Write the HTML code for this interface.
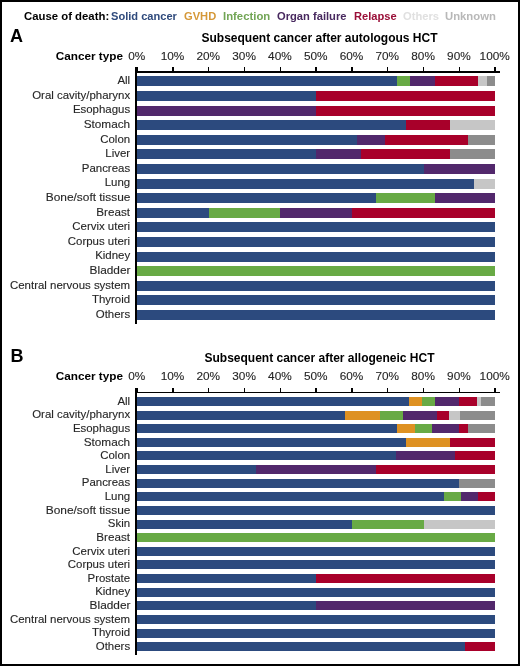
<!DOCTYPE html><html><head><meta charset="utf-8"><style>
html,body{margin:0;padding:0;background:#fff;}
#w{position:relative;width:520px;height:666px;overflow:hidden;background:#fff;font-family:"Liberation Sans",sans-serif;}
.t{position:absolute;height:0;line-height:0;white-space:nowrap;}
.b{position:absolute;}
#tl{position:absolute;left:0;top:0;width:520px;height:666px;will-change:transform;}
.r{-webkit-text-stroke:0.12px #262626;}
#bd{position:absolute;left:0;top:0;width:520px;height:666px;box-sizing:border-box;border:2px solid #000;}
</style></head><body><div id="w">
<div class="b" style="left:136.35px;top:67.00px;width:1.50px;height:3.90px;background:#000"></div>
<div class="b" style="left:172.15px;top:67.00px;width:1.50px;height:3.90px;background:#000"></div>
<div class="b" style="left:207.95px;top:67.00px;width:1.50px;height:3.90px;background:#000"></div>
<div class="b" style="left:243.75px;top:67.00px;width:1.50px;height:3.90px;background:#000"></div>
<div class="b" style="left:279.55px;top:67.00px;width:1.50px;height:3.90px;background:#000"></div>
<div class="b" style="left:315.35px;top:67.00px;width:1.50px;height:3.90px;background:#000"></div>
<div class="b" style="left:351.15px;top:67.00px;width:1.50px;height:3.90px;background:#000"></div>
<div class="b" style="left:386.95px;top:67.00px;width:1.50px;height:3.90px;background:#000"></div>
<div class="b" style="left:422.75px;top:67.00px;width:1.50px;height:3.90px;background:#000"></div>
<div class="b" style="left:458.55px;top:67.00px;width:1.50px;height:3.90px;background:#000"></div>
<div class="b" style="left:494.35px;top:67.00px;width:1.50px;height:3.90px;background:#000"></div>
<div class="b" style="left:135.60px;top:70.90px;width:364.00px;height:1.70px;background:#000"></div>
<div class="b" style="left:135.40px;top:67.00px;width:1.80px;height:256.80px;background:#000"></div>
<div class="b" style="left:137.10px;top:76.40px;width:358.00px;height:10.00px;background:#2c4a7e"></div>
<div class="b" style="left:396.65px;top:76.40px;width:98.45px;height:10.00px;background:#68aa45"></div>
<div class="b" style="left:409.54px;top:76.40px;width:85.56px;height:10.00px;background:#52286c"></div>
<div class="b" style="left:434.60px;top:76.40px;width:60.50px;height:10.00px;background:#a8002a"></div>
<div class="b" style="left:478.27px;top:76.40px;width:16.83px;height:10.00px;background:#c6c6c6"></div>
<div class="b" style="left:486.87px;top:76.40px;width:8.23px;height:10.00px;background:#8c8c8c"></div>
<div class="b" style="left:137.10px;top:91.00px;width:358.00px;height:10.00px;background:#2c4a7e"></div>
<div class="b" style="left:316.10px;top:91.00px;width:179.00px;height:10.00px;background:#a8002a"></div>
<div class="b" style="left:137.10px;top:105.60px;width:358.00px;height:10.00px;background:#52286c"></div>
<div class="b" style="left:316.10px;top:105.60px;width:179.00px;height:10.00px;background:#a8002a"></div>
<div class="b" style="left:137.10px;top:120.20px;width:358.00px;height:10.00px;background:#2c4a7e"></div>
<div class="b" style="left:405.60px;top:120.20px;width:89.50px;height:10.00px;background:#a8002a"></div>
<div class="b" style="left:450.35px;top:120.20px;width:44.75px;height:10.00px;background:#c6c6c6"></div>
<div class="b" style="left:137.10px;top:134.80px;width:358.00px;height:10.00px;background:#2c4a7e"></div>
<div class="b" style="left:357.41px;top:134.80px;width:137.69px;height:10.00px;background:#52286c"></div>
<div class="b" style="left:384.94px;top:134.80px;width:110.16px;height:10.00px;background:#a8002a"></div>
<div class="b" style="left:467.57px;top:134.80px;width:27.53px;height:10.00px;background:#8c8c8c"></div>
<div class="b" style="left:137.10px;top:149.40px;width:358.00px;height:10.00px;background:#2c4a7e"></div>
<div class="b" style="left:316.10px;top:149.40px;width:179.00px;height:10.00px;background:#52286c"></div>
<div class="b" style="left:360.85px;top:149.40px;width:134.25px;height:10.00px;background:#a8002a"></div>
<div class="b" style="left:450.35px;top:149.40px;width:44.75px;height:10.00px;background:#8c8c8c"></div>
<div class="b" style="left:137.10px;top:164.00px;width:358.00px;height:10.00px;background:#2c4a7e"></div>
<div class="b" style="left:423.50px;top:164.00px;width:71.60px;height:10.00px;background:#52286c"></div>
<div class="b" style="left:137.10px;top:178.60px;width:358.00px;height:10.00px;background:#2c4a7e"></div>
<div class="b" style="left:474.05px;top:178.60px;width:21.05px;height:10.00px;background:#c6c6c6"></div>
<div class="b" style="left:137.10px;top:193.20px;width:358.00px;height:10.00px;background:#2c4a7e"></div>
<div class="b" style="left:375.78px;top:193.20px;width:119.32px;height:10.00px;background:#68aa45"></div>
<div class="b" style="left:435.42px;top:193.20px;width:59.68px;height:10.00px;background:#52286c"></div>
<div class="b" style="left:137.10px;top:207.80px;width:358.00px;height:10.00px;background:#2c4a7e"></div>
<div class="b" style="left:208.70px;top:207.80px;width:286.40px;height:10.00px;background:#68aa45"></div>
<div class="b" style="left:280.30px;top:207.80px;width:214.80px;height:10.00px;background:#52286c"></div>
<div class="b" style="left:351.90px;top:207.80px;width:143.20px;height:10.00px;background:#a8002a"></div>
<div class="b" style="left:137.10px;top:222.40px;width:358.00px;height:10.00px;background:#2c4a7e"></div>
<div class="b" style="left:137.10px;top:237.00px;width:358.00px;height:10.00px;background:#2c4a7e"></div>
<div class="b" style="left:137.10px;top:251.60px;width:358.00px;height:10.00px;background:#2c4a7e"></div>
<div class="b" style="left:137.10px;top:266.20px;width:358.00px;height:10.00px;background:#68aa45"></div>
<div class="b" style="left:137.10px;top:280.80px;width:358.00px;height:10.00px;background:#2c4a7e"></div>
<div class="b" style="left:137.10px;top:295.40px;width:358.00px;height:10.00px;background:#2c4a7e"></div>
<div class="b" style="left:137.10px;top:310.00px;width:358.00px;height:10.00px;background:#2c4a7e"></div>
<div class="b" style="left:136.35px;top:387.90px;width:1.50px;height:3.90px;background:#000"></div>
<div class="b" style="left:172.15px;top:387.90px;width:1.50px;height:3.90px;background:#000"></div>
<div class="b" style="left:207.95px;top:387.90px;width:1.50px;height:3.90px;background:#000"></div>
<div class="b" style="left:243.75px;top:387.90px;width:1.50px;height:3.90px;background:#000"></div>
<div class="b" style="left:279.55px;top:387.90px;width:1.50px;height:3.90px;background:#000"></div>
<div class="b" style="left:315.35px;top:387.90px;width:1.50px;height:3.90px;background:#000"></div>
<div class="b" style="left:351.15px;top:387.90px;width:1.50px;height:3.90px;background:#000"></div>
<div class="b" style="left:386.95px;top:387.90px;width:1.50px;height:3.90px;background:#000"></div>
<div class="b" style="left:422.75px;top:387.90px;width:1.50px;height:3.90px;background:#000"></div>
<div class="b" style="left:458.55px;top:387.90px;width:1.50px;height:3.90px;background:#000"></div>
<div class="b" style="left:494.35px;top:387.90px;width:1.50px;height:3.90px;background:#000"></div>
<div class="b" style="left:135.60px;top:391.80px;width:364.00px;height:1.70px;background:#000"></div>
<div class="b" style="left:135.40px;top:387.90px;width:1.80px;height:267.30px;background:#000"></div>
<div class="b" style="left:137.10px;top:396.90px;width:358.00px;height:9.00px;background:#2c4a7e"></div>
<div class="b" style="left:408.82px;top:396.90px;width:86.28px;height:9.00px;background:#de9122"></div>
<div class="b" style="left:421.71px;top:396.90px;width:73.39px;height:9.00px;background:#68aa45"></div>
<div class="b" style="left:435.31px;top:396.90px;width:59.79px;height:9.00px;background:#52286c"></div>
<div class="b" style="left:459.30px;top:396.90px;width:35.80px;height:9.00px;background:#a8002a"></div>
<div class="b" style="left:477.20px;top:396.90px;width:17.90px;height:9.00px;background:#c6c6c6"></div>
<div class="b" style="left:480.78px;top:396.90px;width:14.32px;height:9.00px;background:#8c8c8c"></div>
<div class="b" style="left:137.10px;top:410.53px;width:358.00px;height:9.00px;background:#2c4a7e"></div>
<div class="b" style="left:344.95px;top:410.53px;width:150.15px;height:9.00px;background:#de9122"></div>
<div class="b" style="left:379.61px;top:410.53px;width:115.49px;height:9.00px;background:#68aa45"></div>
<div class="b" style="left:402.70px;top:410.53px;width:92.40px;height:9.00px;background:#52286c"></div>
<div class="b" style="left:437.35px;top:410.53px;width:57.75px;height:9.00px;background:#a8002a"></div>
<div class="b" style="left:448.92px;top:410.53px;width:46.18px;height:9.00px;background:#c6c6c6"></div>
<div class="b" style="left:460.45px;top:410.53px;width:34.65px;height:9.00px;background:#8c8c8c"></div>
<div class="b" style="left:137.10px;top:424.16px;width:358.00px;height:9.00px;background:#2c4a7e"></div>
<div class="b" style="left:396.65px;top:424.16px;width:98.45px;height:9.00px;background:#de9122"></div>
<div class="b" style="left:414.55px;top:424.16px;width:80.55px;height:9.00px;background:#68aa45"></div>
<div class="b" style="left:432.45px;top:424.16px;width:62.65px;height:9.00px;background:#52286c"></div>
<div class="b" style="left:459.30px;top:424.16px;width:35.80px;height:9.00px;background:#a8002a"></div>
<div class="b" style="left:468.25px;top:424.16px;width:26.85px;height:9.00px;background:#8c8c8c"></div>
<div class="b" style="left:137.10px;top:437.79px;width:358.00px;height:9.00px;background:#2c4a7e"></div>
<div class="b" style="left:405.60px;top:437.79px;width:89.50px;height:9.00px;background:#de9122"></div>
<div class="b" style="left:450.35px;top:437.79px;width:44.75px;height:9.00px;background:#a8002a"></div>
<div class="b" style="left:137.10px;top:451.42px;width:358.00px;height:9.00px;background:#2c4a7e"></div>
<div class="b" style="left:395.65px;top:451.42px;width:99.45px;height:9.00px;background:#52286c"></div>
<div class="b" style="left:455.33px;top:451.42px;width:39.77px;height:9.00px;background:#a8002a"></div>
<div class="b" style="left:137.10px;top:465.05px;width:358.00px;height:9.00px;background:#2c4a7e"></div>
<div class="b" style="left:256.42px;top:465.05px;width:238.68px;height:9.00px;background:#52286c"></div>
<div class="b" style="left:375.78px;top:465.05px;width:119.32px;height:9.00px;background:#a8002a"></div>
<div class="b" style="left:137.10px;top:478.68px;width:358.00px;height:9.00px;background:#2c4a7e"></div>
<div class="b" style="left:459.30px;top:478.68px;width:35.80px;height:9.00px;background:#8c8c8c"></div>
<div class="b" style="left:137.10px;top:492.31px;width:358.00px;height:9.00px;background:#2c4a7e"></div>
<div class="b" style="left:443.94px;top:492.31px;width:51.16px;height:9.00px;background:#68aa45"></div>
<div class="b" style="left:461.02px;top:492.31px;width:34.08px;height:9.00px;background:#52286c"></div>
<div class="b" style="left:478.06px;top:492.31px;width:17.04px;height:9.00px;background:#a8002a"></div>
<div class="b" style="left:137.10px;top:505.94px;width:358.00px;height:9.00px;background:#2c4a7e"></div>
<div class="b" style="left:137.10px;top:519.57px;width:358.00px;height:9.00px;background:#2c4a7e"></div>
<div class="b" style="left:351.90px;top:519.57px;width:143.20px;height:9.00px;background:#68aa45"></div>
<div class="b" style="left:423.50px;top:519.57px;width:71.60px;height:9.00px;background:#c6c6c6"></div>
<div class="b" style="left:137.10px;top:533.20px;width:358.00px;height:9.00px;background:#68aa45"></div>
<div class="b" style="left:137.10px;top:546.83px;width:358.00px;height:9.00px;background:#2c4a7e"></div>
<div class="b" style="left:137.10px;top:560.46px;width:358.00px;height:9.00px;background:#2c4a7e"></div>
<div class="b" style="left:137.10px;top:574.09px;width:358.00px;height:9.00px;background:#2c4a7e"></div>
<div class="b" style="left:316.10px;top:574.09px;width:179.00px;height:9.00px;background:#a8002a"></div>
<div class="b" style="left:137.10px;top:587.72px;width:358.00px;height:9.00px;background:#2c4a7e"></div>
<div class="b" style="left:137.10px;top:601.35px;width:358.00px;height:9.00px;background:#2c4a7e"></div>
<div class="b" style="left:316.10px;top:601.35px;width:179.00px;height:9.00px;background:#52286c"></div>
<div class="b" style="left:137.10px;top:614.98px;width:358.00px;height:9.00px;background:#2c4a7e"></div>
<div class="b" style="left:137.10px;top:628.61px;width:358.00px;height:9.00px;background:#2c4a7e"></div>
<div class="b" style="left:137.10px;top:642.24px;width:358.00px;height:9.00px;background:#2c4a7e"></div>
<div class="b" style="left:465.28px;top:642.24px;width:29.82px;height:9.00px;background:#a8002a"></div>
<div id="tl"><div class="t" style="left:23.75px;top:15.96px;font-size:10.8px;font-weight:bold;color:#000;transform:scaleX(1.0517);transform-origin:0 0">Cause of death:</div><div class="t" style="left:111.47px;top:15.96px;font-size:10.8px;font-weight:bold;color:#2f4a7c;transform:scaleX(1.0264);transform-origin:0 0">Solid cancer</div><div class="t" style="left:184.15px;top:15.96px;font-size:10.8px;font-weight:bold;color:#d59838;transform:scaleX(1.0314);transform-origin:0 0">GVHD</div><div class="t" style="left:222.61px;top:15.96px;font-size:10.8px;font-weight:bold;color:#72a555;transform:scaleX(1.0500);transform-origin:0 0">Infection</div><div class="t" style="left:276.75px;top:15.96px;font-size:10.8px;font-weight:bold;color:#48295f;transform:scaleX(1.0343);transform-origin:0 0">Organ failure</div><div class="t" style="left:353.52px;top:15.96px;font-size:10.8px;font-weight:bold;color:#9a0f38;transform:scaleX(1.0302);transform-origin:0 0">Relapse</div><div class="t" style="left:402.55px;top:15.96px;font-size:10.8px;font-weight:bold;color:#e0e0e0;transform:scaleX(1.0321);transform-origin:0 0">Others</div><div class="t" style="left:445.12px;top:15.96px;font-size:10.8px;font-weight:bold;color:#b8b8b8;transform:scaleX(1.0464);transform-origin:0 0">Unknown</div><div class="t" style="left:10.00px;top:36.06px;font-size:18px;font-weight:bold;color:#000;">A</div><div class="t" style="left:119.50px;width:400px;text-align:center;top:38.04px;font-size:12.0px;font-weight:bold;color:#000;">Subsequent cancer after autologous HCT</div><div class="t" style="right:397.00px;top:55.73px;font-size:11.75px;font-weight:bold;color:#000;">Cancer type</div><div class="t r" style="left:-63.30px;width:400px;text-align:center;top:55.71px;font-size:11.8px;font-weight:normal;color:#262626;">0%</div><div class="t r" style="left:-27.50px;width:400px;text-align:center;top:55.71px;font-size:11.8px;font-weight:normal;color:#262626;">10%</div><div class="t r" style="left:8.30px;width:400px;text-align:center;top:55.71px;font-size:11.8px;font-weight:normal;color:#262626;">20%</div><div class="t r" style="left:44.10px;width:400px;text-align:center;top:55.71px;font-size:11.8px;font-weight:normal;color:#262626;">30%</div><div class="t r" style="left:79.90px;width:400px;text-align:center;top:55.71px;font-size:11.8px;font-weight:normal;color:#262626;">40%</div><div class="t r" style="left:115.70px;width:400px;text-align:center;top:55.71px;font-size:11.8px;font-weight:normal;color:#262626;">50%</div><div class="t r" style="left:151.50px;width:400px;text-align:center;top:55.71px;font-size:11.8px;font-weight:normal;color:#262626;">60%</div><div class="t r" style="left:187.30px;width:400px;text-align:center;top:55.71px;font-size:11.8px;font-weight:normal;color:#262626;">70%</div><div class="t r" style="left:223.10px;width:400px;text-align:center;top:55.71px;font-size:11.8px;font-weight:normal;color:#262626;">80%</div><div class="t r" style="left:258.90px;width:400px;text-align:center;top:55.71px;font-size:11.8px;font-weight:normal;color:#262626;">90%</div><div class="t r" style="left:294.70px;width:400px;text-align:center;top:55.71px;font-size:11.8px;font-weight:normal;color:#262626;">100%</div><div class="t r" style="right:389.90px;top:80.23px;font-size:11.45px;font-weight:normal;color:#262626;">All</div><div class="t r" style="right:389.90px;top:94.83px;font-size:11.45px;font-weight:normal;color:#262626;">Oral cavity/pharynx</div><div class="t r" style="right:389.90px;top:109.43px;font-size:11.45px;font-weight:normal;color:#262626;">Esophagus</div><div class="t r" style="right:389.90px;top:124.03px;font-size:11.45px;font-weight:normal;color:#262626;transform:scaleX(1.03);transform-origin:100% 0;">Stomach</div><div class="t r" style="right:389.90px;top:138.63px;font-size:11.45px;font-weight:normal;color:#262626;">Colon</div><div class="t r" style="right:389.90px;top:153.23px;font-size:11.45px;font-weight:normal;color:#262626;">Liver</div><div class="t r" style="right:389.90px;top:167.83px;font-size:11.45px;font-weight:normal;color:#262626;">Pancreas</div><div class="t r" style="right:389.90px;top:182.43px;font-size:11.45px;font-weight:normal;color:#262626;">Lung</div><div class="t r" style="right:389.90px;top:197.03px;font-size:11.45px;font-weight:normal;color:#262626;transform:scaleX(1.04);transform-origin:100% 0;">Bone/soft tissue</div><div class="t r" style="right:389.90px;top:211.63px;font-size:11.45px;font-weight:normal;color:#262626;transform:scaleX(1.02);transform-origin:100% 0;">Breast</div><div class="t r" style="right:389.90px;top:226.23px;font-size:11.45px;font-weight:normal;color:#262626;">Cervix uteri</div><div class="t r" style="right:389.90px;top:240.83px;font-size:11.45px;font-weight:normal;color:#262626;">Corpus uteri</div><div class="t r" style="right:389.90px;top:255.43px;font-size:11.45px;font-weight:normal;color:#262626;">Kidney</div><div class="t r" style="right:389.90px;top:270.03px;font-size:11.45px;font-weight:normal;color:#262626;transform:scaleX(1.035);transform-origin:100% 0;">Bladder</div><div class="t r" style="right:389.90px;top:284.63px;font-size:11.45px;font-weight:normal;color:#262626;">Central nervous system</div><div class="t r" style="right:389.90px;top:299.23px;font-size:11.45px;font-weight:normal;color:#262626;">Thyroid</div><div class="t r" style="right:389.90px;top:313.83px;font-size:11.45px;font-weight:normal;color:#262626;">Others</div><div class="t" style="left:10.40px;top:355.86px;font-size:18px;font-weight:bold;color:#000;">B</div><div class="t" style="left:119.50px;width:400px;text-align:center;top:358.24px;font-size:12.0px;font-weight:bold;color:#000;">Subsequent cancer after allogeneic HCT</div><div class="t" style="right:397.00px;top:376.13px;font-size:11.75px;font-weight:bold;color:#000;">Cancer type</div><div class="t r" style="left:-63.30px;width:400px;text-align:center;top:376.11px;font-size:11.8px;font-weight:normal;color:#262626;">0%</div><div class="t r" style="left:-27.50px;width:400px;text-align:center;top:376.11px;font-size:11.8px;font-weight:normal;color:#262626;">10%</div><div class="t r" style="left:8.30px;width:400px;text-align:center;top:376.11px;font-size:11.8px;font-weight:normal;color:#262626;">20%</div><div class="t r" style="left:44.10px;width:400px;text-align:center;top:376.11px;font-size:11.8px;font-weight:normal;color:#262626;">30%</div><div class="t r" style="left:79.90px;width:400px;text-align:center;top:376.11px;font-size:11.8px;font-weight:normal;color:#262626;">40%</div><div class="t r" style="left:115.70px;width:400px;text-align:center;top:376.11px;font-size:11.8px;font-weight:normal;color:#262626;">50%</div><div class="t r" style="left:151.50px;width:400px;text-align:center;top:376.11px;font-size:11.8px;font-weight:normal;color:#262626;">60%</div><div class="t r" style="left:187.30px;width:400px;text-align:center;top:376.11px;font-size:11.8px;font-weight:normal;color:#262626;">70%</div><div class="t r" style="left:223.10px;width:400px;text-align:center;top:376.11px;font-size:11.8px;font-weight:normal;color:#262626;">80%</div><div class="t r" style="left:258.90px;width:400px;text-align:center;top:376.11px;font-size:11.8px;font-weight:normal;color:#262626;">90%</div><div class="t r" style="left:294.70px;width:400px;text-align:center;top:376.11px;font-size:11.8px;font-weight:normal;color:#262626;">100%</div><div class="t r" style="right:389.90px;top:400.63px;font-size:11.45px;font-weight:normal;color:#262626;">All</div><div class="t r" style="right:389.90px;top:414.26px;font-size:11.45px;font-weight:normal;color:#262626;">Oral cavity/pharynx</div><div class="t r" style="right:389.90px;top:427.89px;font-size:11.45px;font-weight:normal;color:#262626;">Esophagus</div><div class="t r" style="right:389.90px;top:441.52px;font-size:11.45px;font-weight:normal;color:#262626;transform:scaleX(1.03);transform-origin:100% 0;">Stomach</div><div class="t r" style="right:389.90px;top:455.15px;font-size:11.45px;font-weight:normal;color:#262626;">Colon</div><div class="t r" style="right:389.90px;top:468.78px;font-size:11.45px;font-weight:normal;color:#262626;">Liver</div><div class="t r" style="right:389.90px;top:482.41px;font-size:11.45px;font-weight:normal;color:#262626;">Pancreas</div><div class="t r" style="right:389.90px;top:496.04px;font-size:11.45px;font-weight:normal;color:#262626;">Lung</div><div class="t r" style="right:389.90px;top:509.67px;font-size:11.45px;font-weight:normal;color:#262626;transform:scaleX(1.04);transform-origin:100% 0;">Bone/soft tissue</div><div class="t r" style="right:389.90px;top:523.30px;font-size:11.45px;font-weight:normal;color:#262626;">Skin</div><div class="t r" style="right:389.90px;top:536.93px;font-size:11.45px;font-weight:normal;color:#262626;transform:scaleX(1.02);transform-origin:100% 0;">Breast</div><div class="t r" style="right:389.90px;top:550.56px;font-size:11.45px;font-weight:normal;color:#262626;">Cervix uteri</div><div class="t r" style="right:389.90px;top:564.19px;font-size:11.45px;font-weight:normal;color:#262626;">Corpus uteri</div><div class="t r" style="right:389.90px;top:577.82px;font-size:11.45px;font-weight:normal;color:#262626;">Prostate</div><div class="t r" style="right:389.90px;top:591.45px;font-size:11.45px;font-weight:normal;color:#262626;">Kidney</div><div class="t r" style="right:389.90px;top:605.08px;font-size:11.45px;font-weight:normal;color:#262626;transform:scaleX(1.035);transform-origin:100% 0;">Bladder</div><div class="t r" style="right:389.90px;top:618.71px;font-size:11.45px;font-weight:normal;color:#262626;">Central nervous system</div><div class="t r" style="right:389.90px;top:632.34px;font-size:11.45px;font-weight:normal;color:#262626;">Thyroid</div><div class="t r" style="right:389.90px;top:645.97px;font-size:11.45px;font-weight:normal;color:#262626;">Others</div></div><div id="bd"></div>
</div></body></html>
